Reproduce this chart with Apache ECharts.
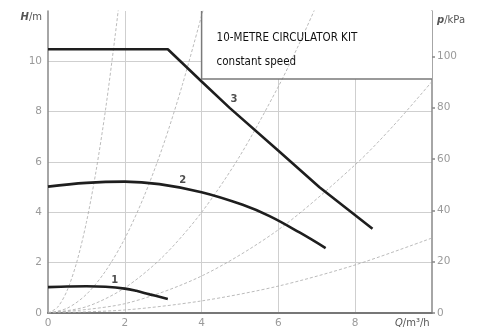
<!DOCTYPE html>
<html><head><meta charset="utf-8">
<script src="https://cdn.jsdelivr.net/npm/echarts@6/dist/echarts.min.js"></script>
<style>html,body{margin:0;padding:0;background:#fff}#c{width:483px;height:330px}</style>
</head><body><div id="c"></div>
<script>
// ---- data (Q in m3/h, H in m) ----
var xTicks = [0, 2, 4, 6, 8, 10];
var yTicks = [0, 2, 4, 6, 8, 10, 12];
var pTicks = [0, 20, 40, 60, 80, 100];

var curve1 = [[0,1.03],[0.5,1.05],[1.0,1.06],[1.5,1.04],[2.0,0.97],[2.3,0.88],[2.65,0.74],[3.12,0.56]];
var curve2 = [[0,5.02],[1.0,5.17],[2.0,5.22],[2.9,5.12],[4.0,4.8],[5.07,4.3],[5.77,3.85],[6.55,3.2],[7.23,2.58]];
var curve3 = [[0,10.48],[3.12,10.48],[4.0,9.2],[4.73,8.15],[6.0,6.45],[7.07,5.0],[8.45,3.35]];

var sys1 = [[0,0],[0.25,0.23],[0.5,0.9],[0.75,2.03],[1.0,3.6],[1.25,5.63],[1.5,8.1],[1.75,11.03],[1.85,12.3]];
var sys2 = [[0,0],[0.5,0.19],[1.0,0.74],[1.5,1.67],[2.0,2.96],[2.5,4.63],[3.0,6.66],[3.5,9.07],[4.05,12.1]];
var sys3 = [[0,0],[1,0.25],[2,1.0],[3,2.25],[4,4.0],[5,6.25],[6,9.0],[6.5,10.56],[7,12.25]];
var sys4 = [[0,0],[2,0.37],[4,1.47],[6,3.31],[8,5.89],[9,7.45],[10,9.2]];
var sys5 = [[0,0],[2,0.12],[4,0.48],[6,1.07],[8,1.91],[10,2.98]];

var curveLabels = [['1',1.74,1.31],['2',3.51,5.28],['3',4.84,8.5]];

var boxArea = [[4, 9.3],[10, 12]];
var boxEdge = [[4,12],[4,9.3],[10,9.3]];
var boxText = ['10-METRE CIRCULATOR KIT', 'constant speed'];

var KPA_PER_M = 9.80665;

// ---- chart ----
var chart = echarts.init(document.getElementById('c'));
var tickFont = {color:'#9a9a9a', fontSize:10.5, fontFamily:'DejaVu Sans'};
function sysSeries(d){
  return {type:'line', data:d, smooth:0.3, showSymbol:false, silent:true, z:2,
    lineStyle:{color:'#aaa', width:0.8, type:[3,2]}};
}
function pumpSeries(d, smooth){
  return {type:'line', data:d, smooth:smooth, showSymbol:false, silent:true, z:5,
    lineStyle:{color:'#1e1e1e', width:2.6}};
}
chart.setOption({
  animation:false,
  grid:{left:48, right:51, top:11, bottom:17, containLabel:false},
  xAxis:{type:'value', min:0, max:10, interval:2,
    name:'{i|Q}/m³/h', nameLocation:'end', nameGap:-37,
    nameTextStyle:{align:'left', verticalAlign:'top', padding:[5,0,0,0], color:'#555', fontSize:10, fontFamily:'DejaVu Sans',
      rich:{i:{fontStyle:'italic', color:'#555', fontSize:10, fontFamily:'DejaVu Sans'}}},
    axisLine:{show:true, lineStyle:{color:'#777', width:2}},
    axisTick:{show:false},
    axisLabel:Object.assign({margin:5, customValues:[0,2,4,6,8]}, tickFont),
    splitLine:{show:true, showMinLine:false, showMaxLine:false, lineStyle:{color:'#cfcfcf', width:1}}
  },
  yAxis:[{type:'value', min:0, max:12, interval:2,
    name:'{i|H}/m', nameLocation:'end', nameGap:-6,
    nameTextStyle:{align:'right', verticalAlign:'middle', padding:[0,6,0,0], color:'#555', fontSize:10, fontFamily:'DejaVu Sans',
      rich:{i:{fontStyle:'italic', fontWeight:'bold', color:'#555', fontSize:10, fontFamily:'DejaVu Sans'}}},
    axisLine:{show:true, lineStyle:{color:'#888', width:1.5}},
    axisTick:{show:false},
    axisLabel:Object.assign({margin:6, customValues:[0,2,4,6,8,10]}, tickFont),
    splitLine:{show:true, showMinLine:false, showMaxLine:false, lineStyle:{color:'#cfcfcf', width:1}}
  },{type:'value', min:0, max:12*KPA_PER_M, interval:20, position:'right',
    name:'{i|p}/kPa', nameLocation:'end', nameGap:-9,
    nameTextStyle:{align:'left', verticalAlign:'middle', padding:[0,0,0,5], color:'#555', fontSize:10, fontFamily:'DejaVu Sans',
      rich:{i:{fontStyle:'italic', fontWeight:'bold', color:'#555', fontSize:10, fontFamily:'DejaVu Sans'}}},
    axisLine:{show:true, lineStyle:{color:'#888', width:1.5}},
    axisTick:{show:true, inside:false, length:3, customValues:pTicks, lineStyle:{color:'#888', width:1.5}},
    axisLabel:Object.assign({margin:5, customValues:pTicks}, tickFont),
    splitLine:{show:false}
  }],
  series:[
    sysSeries(sys1), sysSeries(sys2), sysSeries(sys3), sysSeries(sys4), sysSeries(sys5),
    {type:'line', data:boxEdge, showSymbol:false, silent:true, z:4,
      lineStyle:{color:'#7a7a7a', width:1.5},
      markArea:{silent:true, itemStyle:{color:'#fff', borderWidth:0},
        label:{show:true, position:'insideTopLeft', formatter:boxText.join('\n'),
          color:'#111', fontSize:11.5, lineHeight:24, fontFamily:'Liberation Sans Narrow, DejaVu Sans Condensed, sans-serif',
          padding:[10,0,0,10], offset:[0,0]},
        data:[[{coord:boxArea[0]},{coord:boxArea[1]}]]}
    },
    pumpSeries(curve1, 0.4), pumpSeries(curve2, 0.4), pumpSeries(curve3, false),
    {type:'scatter', data:curveLabels.map(function(r){return {value:[r[1],r[2]], name:r[0]};}),
      symbolSize:0, silent:true, z:6,
      label:{show:true, position:'inside', formatter:'{b}', color:'#222', fontSize:10, fontWeight:'bold', fontFamily:'DejaVu Sans'}}
  ]
});
</script></body></html>
